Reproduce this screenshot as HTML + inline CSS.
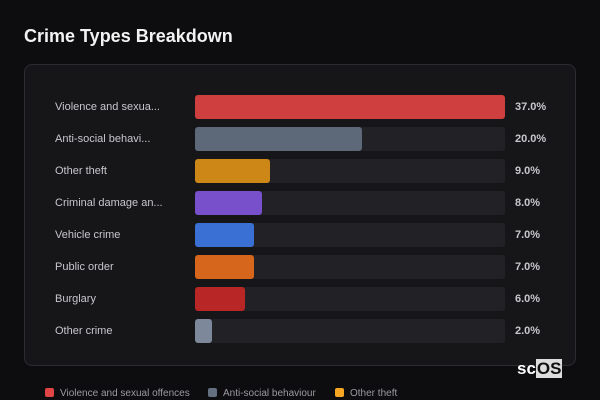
<!DOCTYPE html>
<html><head><style>
body{margin:0;width:600px;height:400px;background:#0d0d10;font-family:"Liberation Sans",sans-serif;position:relative;overflow:hidden}
.t{position:absolute;left:24px;top:26px;color:#f2f2f2;font-size:18px;font-weight:bold}
.p{position:absolute;left:24px;top:64px;width:550px;height:300px;background:#161619;border:1px solid #2c2c31;border-radius:8px}
.r{position:absolute;left:0;height:24px;width:600px}
.l{position:absolute;left:55px;top:6px;color:#c8c8cc;font-size:11px}
.tr{position:absolute;left:195px;top:0;width:310px;height:24px;background:#222226;border-radius:3px}
.b{position:absolute;left:0;top:0;height:24px;border-radius:3px}
.v{position:absolute;left:515px;top:6px;color:#c8c8cc;font-size:11px;font-weight:bold}
.lg{position:absolute;top:388px;font-size:10px;color:#9a9aa0}
.lg i{display:inline-block;width:9px;height:9px;border-radius:2px;margin-right:6px;vertical-align:-1px}
.logo{position:absolute;left:517px;top:359px;color:#fff;font-size:17px;font-weight:bold}
.logo span{background:#ddd;color:#111;padding:0 1px}
</style></head><body>
<div class="t">Crime Types Breakdown</div>
<div class="p"></div>
<div class="r" style="top:95px"><div class="l">Violence and sexua...</div><div class="tr"><div class="b" style="width:310px;background:#cf3f3f"></div></div><div class="v">37.0%</div></div>
<div class="r" style="top:127px"><div class="l">Anti-social behavi...</div><div class="tr"><div class="b" style="width:167px;background:#5d6879"></div></div><div class="v">20.0%</div></div>
<div class="r" style="top:159px"><div class="l">Other theft</div><div class="tr"><div class="b" style="width:75px;background:#cc8716"></div></div><div class="v">9.0%</div></div>
<div class="r" style="top:191px"><div class="l">Criminal damage an...</div><div class="tr"><div class="b" style="width:67px;background:#7850cc"></div></div><div class="v">8.0%</div></div>
<div class="r" style="top:223px"><div class="l">Vehicle crime</div><div class="tr"><div class="b" style="width:59px;background:#3a70d4"></div></div><div class="v">7.0%</div></div>
<div class="r" style="top:255px"><div class="l">Public order</div><div class="tr"><div class="b" style="width:59px;background:#d5661c"></div></div><div class="v">7.0%</div></div>
<div class="r" style="top:287px"><div class="l">Burglary</div><div class="tr"><div class="b" style="width:50px;background:#b82626"></div></div><div class="v">6.0%</div></div>
<div class="r" style="top:319px"><div class="l">Other crime</div><div class="tr"><div class="b" style="width:17px;background:#7d889a"></div></div><div class="v">2.0%</div></div>
<div class="logo">sc<span>OS</span></div>
<div class="lg" style="left:45px"><i style="background:#e04444"></i>Violence and sexual offences</div>
<div class="lg" style="left:208px"><i style="background:#64707f"></i>Anti-social behaviour</div>
<div class="lg" style="left:335px"><i style="background:#f5a623"></i>Other theft</div>
</body></html>
